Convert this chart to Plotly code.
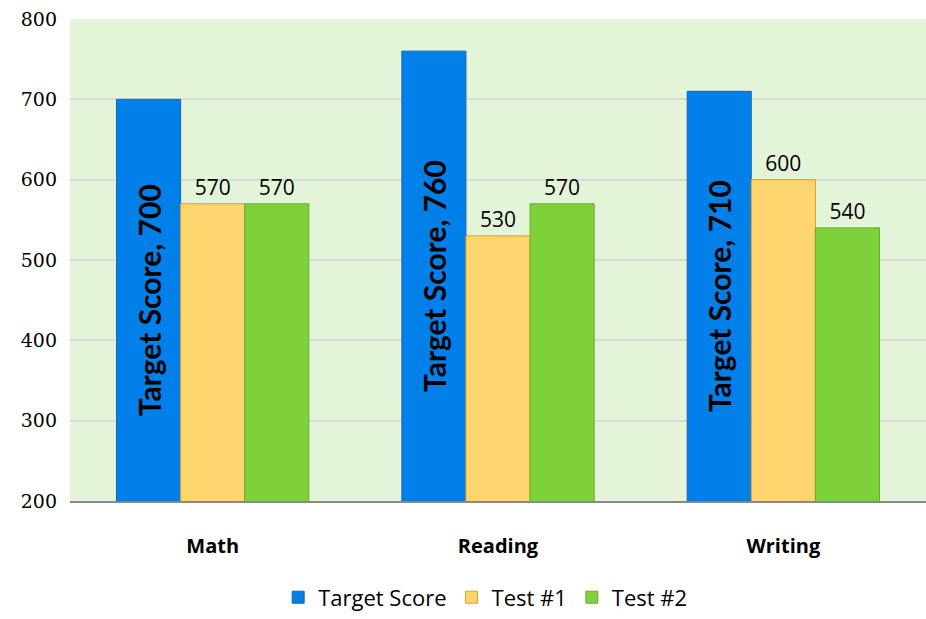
import plotly.graph_objects as go

categories = ["Math", "Reading", "Writing"]
target_score = [700, 760, 710]
test1 = [570, 530, 600]
test2 = [570, 570, 540]
y_ticks = [200, 300, 400, 500, 600, 700, 800]
axis_min = 200

fig = go.Figure()
fig.add_trace(go.Bar(
    name="Target Score", x=categories,
    base=[axis_min] * len(target_score),
    y=[v - axis_min for v in target_score],
    customdata=target_score,
    hovertemplate="%{x}: %{customdata}<extra>Target Score</extra>",
    marker=dict(color="#0080E8", line=dict(color="#1A66B3", width=1)),
    text=[f"Target Score, {v}" for v in target_score],
    textposition="inside", insidetextanchor="middle", textangle=-90,
    constraintext="none",
    insidetextfont=dict(family="Lato", size=30, color="black", weight="bold"),
    cliponaxis=False,
))
fig.add_trace(go.Bar(
    name="Test #1", x=categories, y=test1,
    marker=dict(color="#FFD56F", line=dict(color="#D9A21F", width=1)),
    text=[str(v) for v in test1], textposition="outside", textangle=0,
    outsidetextfont=dict(family="Open Sans", size=21, color="black"),
    cliponaxis=False,
))
fig.add_trace(go.Bar(
    name="Test #2", x=categories, y=test2,
    marker=dict(color="#7FD13B", line=dict(color="#68AD2F", width=1)),
    text=[str(v) for v in test2], textposition="outside", textangle=0,
    outsidetextfont=dict(family="Open Sans", size=21, color="black"),
    cliponaxis=False,
))

fig.update_layout(
    width=926, height=619,
    margin=dict(l=70, r=0, t=19, b=118),
    paper_bgcolor="white", plot_bgcolor="#E3F4D9",
    barmode="group", bargap=0.326, bargroupgap=0,
    showlegend=True,
    legend=dict(orientation="h", x=0.485, xanchor="center", y=-0.2, yanchor="middle",
                font=dict(family="Open Sans", size=22, color="black"),
                itemwidth=30, traceorder="normal"),
    xaxis=dict(showline=True, linecolor="#888888", linewidth=2,
               tickfont=dict(family="Open Sans", size=20, color="black", weight="bold"),
               ticks="", ticklabelstandoff=26),
    yaxis=dict(range=[200, 800], tickvals=y_ticks,
               showgrid=True, gridcolor="#D9D9D9", gridwidth=2,
               zeroline=False, showline=False,
               tickfont=dict(family="DejaVu Serif", size=19, color="black"),
               ticks="", ticklabelstandoff=12),
)

fig.write_html(
    "out.html",
    config={"displayModeBar": False},
    post_script="document.body.style.margin='0';document.body.style.overflow='hidden';",
)
